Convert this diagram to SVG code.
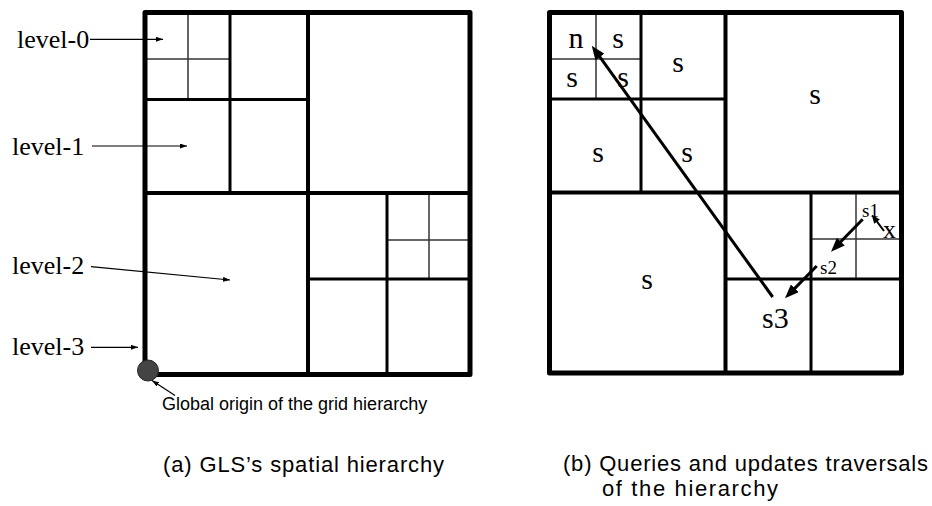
<svg xmlns="http://www.w3.org/2000/svg" width="932" height="506" viewBox="0 0 932 506">
<style>
.outer{fill:none;stroke:#000;stroke-width:5;stroke-linejoin:round}
.l2{stroke:#000;stroke-width:4}
.l1{stroke:#000;stroke-width:3}
.l0{stroke:#333;stroke-width:1.5}
.serif{font-family:"Liberation Serif","Times New Roman",serif;fill:#000}
.sans{font-family:"Liberation Sans",Arial,sans-serif;fill:#000}
.thin{stroke:#000;stroke-width:1.2;fill:none;marker-end:url(#ah-thin)}
.thick{stroke:#000;stroke-width:3;fill:none;marker-end:url(#ah-thick)}
.mid{stroke:#000;stroke-width:2;fill:none;marker-end:url(#ah-small)}
</style>
<defs>
<marker id="ah-thin" viewBox="0 0 7 5" refX="7" refY="2.5" markerWidth="7" markerHeight="5" markerUnits="userSpaceOnUse" orient="auto"><path d="M0,0 L7,2.5 L0,5 z" fill="#000"/></marker>
<marker id="ah-thick" viewBox="0 0 14 11" refX="6" refY="5.5" markerWidth="14" markerHeight="11" markerUnits="userSpaceOnUse" orient="auto"><path d="M0,0 L14,5.5 L0,11 z" fill="#000"/></marker>
<marker id="ah-small" viewBox="0 0 9 7" refX="5" refY="3.5" markerWidth="9" markerHeight="7" markerUnits="userSpaceOnUse" orient="auto"><path d="M0,0 L9,3.5 L0,7 z" fill="#000"/></marker>
</defs>
<rect width="932" height="506" fill="#fff"/>

<g id="left-grid">
<line class="l0" x1="188" y1="12.5" x2="188" y2="99.5"/>
<line class="l0" x1="145" y1="59" x2="230" y2="59"/>
<line class="l0" x1="429" y1="193" x2="429" y2="279"/>
<line class="l0" x1="387" y1="240" x2="470" y2="240"/>
<line class="l1" x1="230" y1="12.5" x2="230" y2="193"/>
<line class="l1" x1="145" y1="99.5" x2="308" y2="99.5"/>
<line class="l1" x1="387" y1="193" x2="387" y2="374.5"/>
<line class="l1" x1="308" y1="279" x2="470" y2="279"/>
<line class="l2" x1="308" y1="12.5" x2="308" y2="374.5"/>
<line class="l2" x1="145" y1="193" x2="470" y2="193"/>
<rect class="outer" x="145" y="12.5" width="325" height="362"/>
</g>

<g id="origin">
<circle cx="148" cy="370.5" r="10.5" fill="#444" stroke="#222" stroke-width="1"/>
</g>

<g id="right-grid">
<line class="l0" x1="596" y1="12.5" x2="596" y2="99"/>
<line class="l0" x1="549.5" y1="59" x2="641" y2="59"/>
<line class="l0" x1="856" y1="192.5" x2="856" y2="279"/>
<line class="l0" x1="811" y1="239" x2="901.5" y2="239"/>
<line class="l1" x1="641" y1="12.5" x2="641" y2="192.5"/>
<line class="l1" x1="549.5" y1="99" x2="725.5" y2="99"/>
<line class="l1" x1="811" y1="192.5" x2="811" y2="373"/>
<line class="l1" x1="725.5" y1="279" x2="901.5" y2="279"/>
<line class="l2" x1="725.5" y1="12.5" x2="725.5" y2="373"/>
<line class="l2" x1="549.5" y1="192.5" x2="901.5" y2="192.5"/>
<rect class="outer" x="549.5" y="12.5" width="352" height="360.5"/>
</g>

<g id="right-labels" class="serif">
<text x="576" y="48" font-size="30" text-anchor="middle">n</text>
<text x="618" y="48" font-size="30" text-anchor="middle">s</text>
<text x="572" y="87" font-size="30" text-anchor="middle">s</text>
<text x="623" y="87" font-size="30" text-anchor="middle">s</text>
<text x="678" y="72" font-size="30" text-anchor="middle">s</text>
<text x="815" y="104" font-size="30" text-anchor="middle">s</text>
<text x="598" y="162" font-size="30" text-anchor="middle">s</text>
<text x="687" y="162" font-size="30" text-anchor="middle">s</text>
<text x="647" y="289" font-size="30" text-anchor="middle">s</text>
<text x="762" y="328" font-size="30">s3</text>
<text x="820" y="274" font-size="19">s2</text>
<text x="862" y="217" font-size="19">s1</text>
<text x="883" y="238" font-size="26">x</text>
</g>

<g id="left-labels" class="serif" font-size="26">
<text x="17" y="48">level-0</text>
<text x="12" y="155">level-1</text>
<text x="12" y="274">level-2</text>
<text x="12" y="355">level-3</text>
</g>

<g id="connectors">
<line class="thin" x1="90" y1="39.3" x2="163" y2="39.3"/>
<line class="thin" x1="92" y1="146" x2="187" y2="146"/>
<line class="thin" x1="91" y1="266.7" x2="230" y2="280"/>
<line class="thin" x1="91" y1="347.3" x2="138" y2="347.3"/>
<line class="thin" x1="175" y1="395.5" x2="152" y2="380.5"/>
<line class="thick" x1="772.7" y1="297" x2="596.4" y2="52.2"/>
<line class="thick" x1="862.7" y1="219.3" x2="836.6" y2="246"/>
<line class="thick" x1="816.7" y1="266" x2="790.6" y2="292.6"/>
<line class="mid" x1="884" y1="231" x2="874" y2="217.7"/>
</g>

<g id="captions" class="sans">
<text x="162" y="410" font-size="18">Global origin of the grid hierarchy</text>
<text x="163" y="472" font-size="22" textLength="281">(a) GLS’s spatial hierarchy</text>
<text x="563" y="471" font-size="22" textLength="365">(b) Queries and updates traversals</text>
<text x="602" y="496" font-size="22" textLength="176">of the hierarchy</text>
</g>
</svg>
